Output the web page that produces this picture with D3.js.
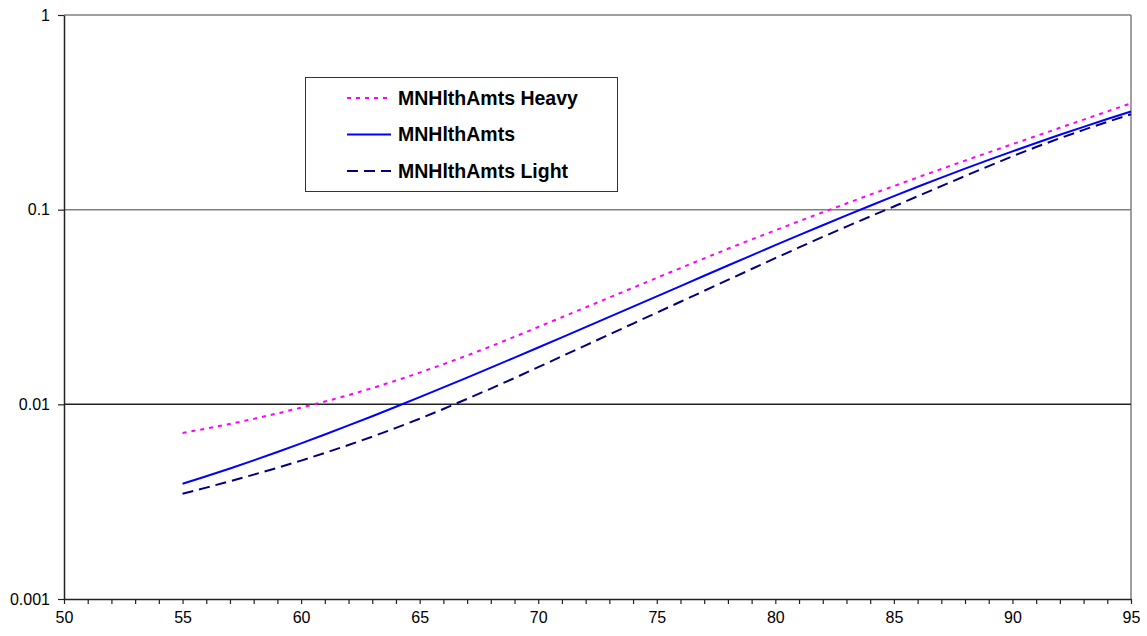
<!DOCTYPE html>
<html>
<head>
<meta charset="utf-8">
<script src="https://cdn.jsdelivr.net/npm/d3@7"></script>
<style>
  html, body { margin: 0; padding: 0; background: #fff; }
  svg { display: block; font-family: "Liberation Sans", Arial, sans-serif; }
</style>
</head>
<body>
<svg id="chart" width="1147" height="636"></svg>
<script>
// Ages on the horizontal axis
const ages = d3.range(55, 96);

// Rate series, one value per age
const heavy = [0.00713, 0.00751, 0.00793, 0.00842, 0.00898, 0.00962, 0.01033, 0.01115, 0.01212, 0.01324,
  0.01455, 0.01607, 0.01782, 0.01986, 0.02223, 0.02495, 0.02802, 0.03148, 0.03535, 0.03972,
  0.04462, 0.05012, 0.05623, 0.06295, 0.07031, 0.07834, 0.08721, 0.09694, 0.1076, 0.1194,
  0.1322, 0.1463, 0.1618, 0.1786, 0.1970, 0.2170, 0.2390, 0.2633, 0.2901, 0.3195, 0.3519];

const base = [0.003908, 0.004271, 0.004683, 0.005152, 0.005689, 0.006302, 0.006998, 0.007791, 0.008690, 0.009716,
  0.01089, 0.01222, 0.01372, 0.01543, 0.01738, 0.01959, 0.02208, 0.02492, 0.02812, 0.03174,
  0.03585, 0.04051, 0.04577, 0.05164, 0.05829, 0.06570, 0.07396, 0.08318, 0.09344, 0.1048,
  0.1173, 0.1311, 0.1461, 0.1624, 0.1801, 0.1993, 0.2200, 0.2424, 0.2664, 0.2921, 0.3195];

const light = [0.003475, 0.003733, 0.004027, 0.004355, 0.004721, 0.005140, 0.005623, 0.006180, 0.006823, 0.007568,
  0.008433, 0.009462, 0.01067, 0.01205, 0.01365, 0.01552, 0.01766, 0.02009, 0.02286, 0.02600,
  0.02958, 0.03365, 0.03828, 0.04355, 0.04955, 0.05636, 0.06397, 0.07244, 0.08185, 0.09226,
  0.1038, 0.1172, 0.1321, 0.1489, 0.1675, 0.1879, 0.2099, 0.2328, 0.2570, 0.2825, 0.3090];

const seriesNames = ["MNHlthAmts Heavy", "MNHlthAmts", "MNHlthAmts Light"];

// Axis tick values and labels
const xTicks = d3.range(50, 96, 5);
const xMinorTicks = d3.range(50, 96, 1);
const yTicks = [0.001, 0.01, 0.1, 1];
const yTickLabels = ["0.001", "0.01", "0.1", "1"];

const svg = d3.select("#chart");
const margin = { left: 64, top: 15, right: 1147 - 1131, bottom: 636 - 599 };
const W = 1147, H = 636;

const x = d3.scaleLinear().domain([50, 95]).range([margin.left, W - margin.right]);
const y = d3.scaleLog().domain([0.001, 1]).range([H - margin.bottom, margin.top]);

// Frame: top and right edges in grey
svg.append("line")
  .attr("x1", x(50)).attr("x2", x(95)).attr("y1", y(1)).attr("y2", y(1))
  .attr("stroke", "#808080").attr("stroke-width", 1.5);
svg.append("line")
  .attr("x1", x(95)).attr("x2", x(95)).attr("y1", y(1)).attr("y2", y(0.001))
  .attr("stroke", "#808080").attr("stroke-width", 1.5);

// Horizontal gridlines at the inner decades
svg.append("line")
  .attr("x1", x(50)).attr("x2", x(95)).attr("y1", y(0.1)).attr("y2", y(0.1))
  .attr("stroke", "#808080").attr("stroke-width", 1.5);
svg.append("line")
  .attr("x1", x(50)).attr("x2", x(95)).attr("y1", y(0.01)).attr("y2", y(0.01))
  .attr("stroke", "#222").attr("stroke-width", 1.5);

// X axis with a tick at every age, labels every five
const xAxis = svg.append("g")
  .attr("transform", `translate(0,${y(0.001)})`)
  .call(d3.axisBottom(x).tickValues(xMinorTicks).tickSize(5).tickSizeOuter(0)
    .tickFormat(d => xTicks.includes(d) ? d : ""));
xAxis.select(".domain").attr("stroke", "#222").attr("stroke-width", 1.5);
xAxis.selectAll(".tick line").attr("stroke", "#222").attr("stroke-width", 1.2);
xAxis.selectAll(".tick text")
  .attr("font-size", 16).attr("font-family", "Liberation Sans, Arial, sans-serif")
  .attr("fill", "#000").attr("dy", "0.71em").attr("y", 13);

// Y axis, log decades
const yAxis = svg.append("g")
  .attr("transform", `translate(${x(50)},0)`)
  .call(d3.axisLeft(y).tickValues(yTicks).tickSize(6).tickSizeOuter(0)
    .tickFormat((d, i) => yTickLabels[i]));
yAxis.select(".domain").attr("stroke", "#222").attr("stroke-width", 1.5);
yAxis.selectAll(".tick line").attr("stroke", "#222").attr("stroke-width", 1.2);
yAxis.selectAll(".tick text")
  .attr("font-size", 16).attr("font-family", "Liberation Sans, Arial, sans-serif")
  .attr("fill", "#000").attr("x", -14);

// Series lines
const styles = [
  { data: heavy, color: "#FF00FF", dash: "4,5" },
  { data: base, color: "#0000FF", dash: null },
  { data: light, color: "#000080", dash: "11,6" }
];

const line = d3.line()
  .x(d => x(d[0]))
  .y(d => y(d[1]));

styles.forEach(s => {
  svg.append("path")
    .datum(ages.map((a, i) => [a, s.data[i]]))
    .attr("d", line)
    .attr("fill", "none")
    .attr("stroke", s.color)
    .attr("stroke-width", 2)
    .attr("stroke-dasharray", s.dash);
});

// Legend
const legend = svg.append("g");
legend.append("rect")
  .attr("x", 305.5).attr("y", 77.5).attr("width", 312).attr("height", 114)
  .attr("fill", "#fff").attr("stroke", "#333").attr("stroke-width", 1);

styles.forEach((s, i) => {
  const ly = 98 + i * 36.5;
  legend.append("line")
    .attr("x1", 347).attr("x2", 391).attr("y1", ly).attr("y2", ly)
    .attr("stroke", s.color).attr("stroke-width", 2)
    .attr("stroke-dasharray", s.dash);
  legend.append("text")
    .attr("x", 398).attr("y", ly).attr("dy", "0.35em")
    .attr("font-size", 19.5).attr("font-weight", "bold")
    .attr("fill", "#000")
    .text(seriesNames[i]);
});
</script>
</body>
</html>
